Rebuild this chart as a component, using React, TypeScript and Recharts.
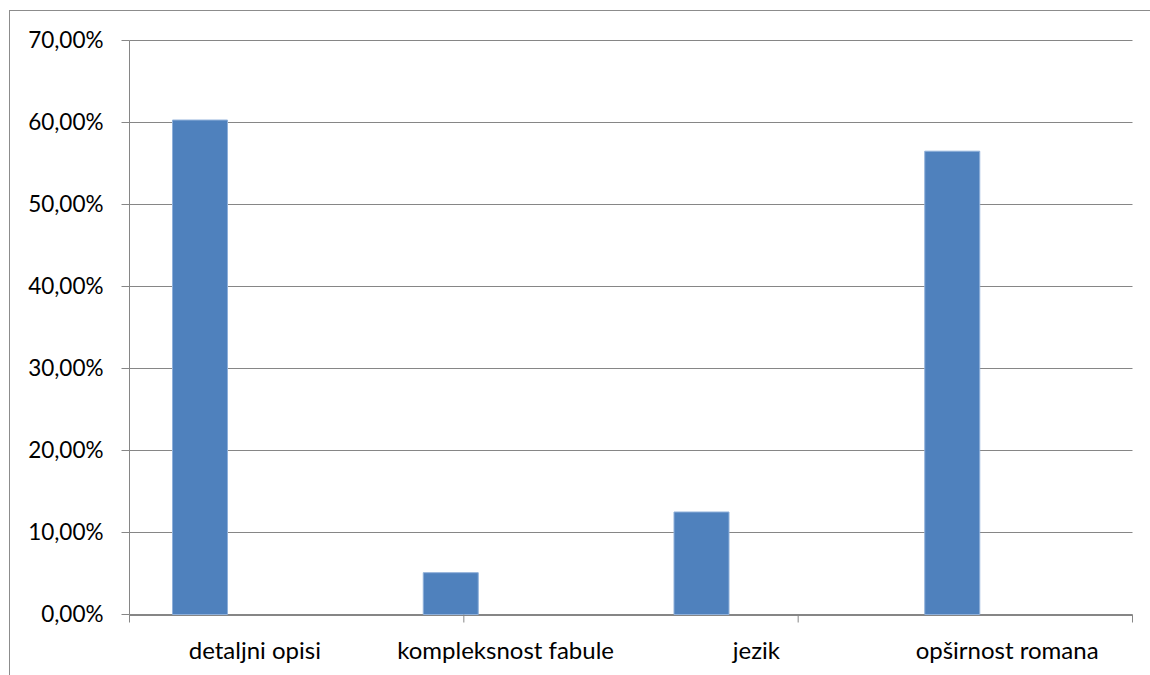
import { Bar, BarChart, CartesianGrid, XAxis, YAxis } from "recharts";

const categories = ["detaljni opisi", "kompleksnost fabule", "jezik", "opširnost romana"];
const shareValues = [60.3, 5.1, 12.5, 56.5];
const yTicks = [0, 10, 20, 30, 40, 50, 60, 70];
const boundaryTicks = [0, 1, 2, 3, 4];

const data = categories.map((name, i) => ({
  name,
  share: shareValues[i],
  empty1: null,
  empty2: null
}));

const gray = "#868686";
const yLabelStyle = { fontSize: 22.5, fill: "#000", fontFamily: "Lato" };
const xLabelStyle = { fontSize: 24, fill: "#000", fontFamily: "Lato" };

const pct = (v: number) => `${v.toFixed(2).replace(".", ",")}%`;

// boundary axis only needs its tick lines
const NoLabel = () => <g />;

export default function App() {
  return (
    <div
      style={{
        position: "fixed",
        left: 0,
        top: 0,
        width: 1150,
        height: 675,
        overflow: "hidden",
        background: "#fff",
        fontFamily: "Lato"
      }}
    >
      <div
        style={{
          position: "absolute",
          left: 9,
          top: 10,
          width: 1200,
          height: 700,
          border: "1px solid #8c8c8c"
        }}
      />
      <div style={{ position: "absolute", left: 0, top: 0 }}>
        <BarChart
          width={1150}
          height={675}
          data={data}
          margin={{ top: 40.5, right: 17.5, left: 0, bottom: 0 }}
          barCategoryGap={43}
          barGap={0}
        >
          <CartesianGrid stroke={gray} vertical={false} />
          <XAxis
            xAxisId="bounds"
            type="number"
            domain={[0, 4]}
            ticks={boundaryTicks}
            allowDataOverflow
            height={1}
            axisLine={false}
            tick={<NoLabel />}
            tickSize={8}
            tickLine={{ stroke: gray }}
          />
          <XAxis
            xAxisId="cat"
            dataKey="name"
            height={59.5}
            axisLine={{ stroke: gray }}
            tickLine={false}
            tickSize={8}
            tickMargin={18}
            tick={xLabelStyle}
            interval={0}
          />
          <YAxis
            domain={[0, 70]}
            ticks={yTicks}
            width={129.5}
            axisLine={{ stroke: gray }}
            tickLine={{ stroke: gray }}
            tickSize={8}
            tickMargin={18}
            tick={yLabelStyle}
            tickFormatter={pct}
          />
          <Bar xAxisId="cat" dataKey="share" fill="#4f81bd" stroke="#8fb0da" strokeWidth={1} isAnimationActive={false} />
          <Bar xAxisId="cat" dataKey="empty1" fill="#c0504d" isAnimationActive={false} />
          <Bar xAxisId="cat" dataKey="empty2" fill="#9bbb59" isAnimationActive={false} />
        </BarChart>
      </div>
    </div>
  );
}
